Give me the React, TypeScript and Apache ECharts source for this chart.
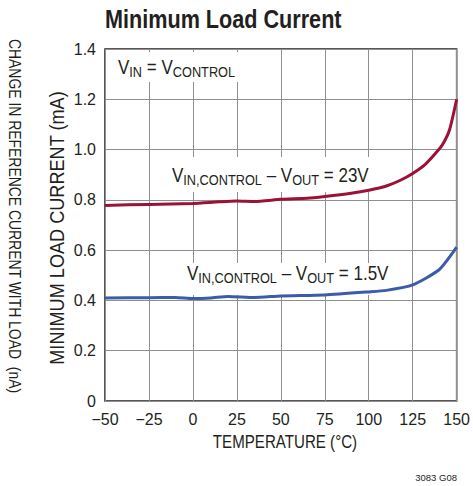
import React, { useEffect, useRef } from "react";
import * as echarts from "echarts";

const titleText = "Minimum Load Current";
const yAxisTitle = "MINIMUM LOAD CURRENT (mA)";
const leftTitle = "CHANGE IN REFERENCE CURRENT WITH LOAD  (nA)";
const xAxisTitle = "TEMPERATURE (°C)";
const footnote = "3083 G08";

const redTemps = [-50, -25, 0, 15, 25, 35, 50, 65, 75, 90, 100, 110, 118, 125, 132, 138, 142, 146, 150];
const redValues = [0.778, 0.782, 0.786, 0.792, 0.795, 0.793, 0.802, 0.806, 0.813, 0.826, 0.838, 0.855, 0.878, 0.905, 0.94, 0.985, 1.02, 1.08, 1.2];

const blueTemps = [-50, -25, -10, 0, 10, 20, 35, 50, 75, 100, 110, 125, 140, 150];
const blueValues = [0.41, 0.411, 0.412, 0.408, 0.41, 0.416, 0.412, 0.418, 0.422, 0.434, 0.44, 0.462, 0.522, 0.612];

const xTicks = { min: -50, max: 150, interval: 25 };
const yTicks = { min: 0, max: 1.4, interval: 0.2 };

const FONT = "'Liberation Sans', Arial, Helvetica, sans-serif";
const INK = "#231f20";
const RED = "#9c1237";
const BLUE = "#3d5ba9";

const richStyles = {
  v: { fontSize: 20, lineHeight: 24, fontFamily: FONT, fill: INK, color: INK },
  s: { fontSize: 15, lineHeight: 15, verticalAlign: "bottom", fontFamily: FONT, fill: INK, color: INK },
};

export default function App() {
  const ref = useRef<HTMLDivElement>(null);
  useEffect(() => {
    if (!ref.current) return;
    const chart = echarts.init(ref.current, undefined, { renderer: "svg" });
    const red = redTemps.map((t, i) => [t, redValues[i]]);
    const blue = blueTemps.map((t, i) => [t, blueValues[i]]);
    chart.setOption({
      animation: false,
      backgroundColor: "#ffffff",
      grid: {
        left: 105,
        right: 16,
        top: 49,
        bottom: 85,
        show: true,
        borderColor: INK,
        borderWidth: 1.5,
        backgroundColor: "transparent",
      },
      xAxis: {
        type: "value",
        min: xTicks.min,
        max: xTicks.max,
        interval: xTicks.interval,
        axisLine: { show: false },
        axisTick: { show: false },
        axisLabel: {
          fontSize: 16,
          color: INK,
          fontFamily: FONT,
          margin: 10,
          formatter: (v: number) => (v < 0 ? "\u2212" + Math.abs(v) : String(v)),
        },
        splitLine: { show: true, lineStyle: { color: "#8f8f8f", width: 1 } },
      },
      yAxis: {
        type: "value",
        min: yTicks.min,
        max: yTicks.max,
        interval: yTicks.interval,
        axisLine: { show: false },
        axisTick: { show: false },
        axisLabel: {
          fontSize: 16,
          color: INK,
          fontFamily: FONT,
          margin: 9,
          formatter: (v: number) => (v === 0 ? "0" : v.toFixed(1)),
        },
        splitLine: { show: true, lineStyle: { color: "#8f8f8f", width: 1 } },
      },
      series: [
        {
          type: "line",
          data: red,
          smooth: 0.2,
          showSymbol: false,
          lineStyle: { color: RED, width: 3 },
          z: 10,
        },
        {
          type: "line",
          data: blue,
          smooth: 0.2,
          showSymbol: false,
          lineStyle: { color: BLUE, width: 3 },
          z: 10,
        },
      ],
      graphic: [
        {
          type: "text",
          x: 105,
          y: 19,
          scaleX: 0.865,
          style: {
            text: titleText,
            fontSize: 25,
            fontWeight: "bold",
            fontFamily: FONT,
            fill: INK,
            align: "left",
            verticalAlign: "middle",
          },
        },
        {
          type: "text",
          x: 15,
          y: 216,
          rotation: -Math.PI / 2,
          scaleX: 0.82,
          style: {
            text: leftTitle,
            fontSize: 17,
            fontFamily: FONT,
            fill: INK,
            align: "center",
            verticalAlign: "middle",
          },
        },
        {
          type: "text",
          x: 57,
          y: 228,
          rotation: Math.PI / 2,
          scaleX: 0.93,
          style: {
            text: yAxisTitle,
            fontSize: 19.5,
            fontFamily: FONT,
            fill: INK,
            align: "center",
            verticalAlign: "middle",
          },
        },
        {
          type: "text",
          x: 285,
          y: 442,
          scaleX: 0.84,
          style: {
            text: xAxisTitle,
            fontSize: 18,
            fontFamily: FONT,
            fill: INK,
            align: "center",
            verticalAlign: "middle",
          },
        },
        {
          type: "rect",
          z: 2,
          shape: { x: 107, y: 52, width: 150, height: 30 },
          style: { fill: "#ffffff" },
        },
        {
          type: "text",
          z: 3,
          x: 118,
          y: 55,
          scaleX: 0.85,
          style: {
            text: "{v|V}{s|IN}{v| = V}{s|CONTROL}",
            rich: richStyles,
            align: "left",
            verticalAlign: "top",
          },
        },
        {
          type: "rect",
          z: 2,
          shape: { x: 167, y: 157, width: 209, height: 35 },
          style: { fill: "#ffffff" },
        },
        {
          type: "text",
          z: 3,
          x: 172,
          y: 163,
          scaleX: 0.85,
          style: {
            text: "{v|V}{s|IN,CONTROL}{v| \u2013 V}{s|OUT}{v| = 23V}",
            rich: richStyles,
            align: "left",
            verticalAlign: "top",
          },
        },
        {
          type: "rect",
          z: 2,
          shape: { x: 182, y: 263, width: 210, height: 32 },
          style: { fill: "#ffffff" },
        },
        {
          type: "text",
          z: 3,
          x: 187,
          y: 261,
          scaleX: 0.85,
          style: {
            text: "{v|V}{s|IN,CONTROL}{v| \u2013 V}{s|OUT}{v| = 1.5V}",
            rich: richStyles,
            align: "left",
            verticalAlign: "top",
          },
        },
        {
          type: "text",
          x: 457,
          y: 477,
          style: {
            text: footnote,
            fontSize: 9.5,
            fontFamily: FONT,
            fill: INK,
            align: "right",
            verticalAlign: "middle",
          },
        },
      ],
    });
    return () => chart.dispose();
  }, []);
  return (
    <div
      ref={ref}
      style={{ position: "fixed", left: 0, top: 0, width: 473, height: 486, background: "#fff" }}
    />
  );
}
